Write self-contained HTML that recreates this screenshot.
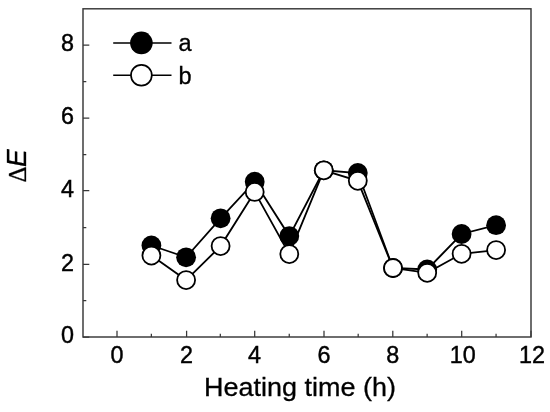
<!DOCTYPE html>
<html><head><meta charset="utf-8"><title>Chart</title>
<style>
html,body{margin:0;padding:0;background:#fff;}
svg{display:block}
text{font-family:"Liberation Sans",Arial,sans-serif;fill:#000}
.t{font-size:24.6px;stroke:#000;stroke-width:0.45px}
.ti{font-size:25.5px;stroke:#000;stroke-width:0.3px}
.lg{font-size:24.8px;stroke:#000;stroke-width:0.35px}
.sym{font-family:"Liberation Sans","DejaVu Sans",sans-serif}
</style></head><body>
<svg width="550" height="412" viewBox="0 0 550 412">
<defs><filter id="soft" x="0" y="0" width="550" height="412" filterUnits="userSpaceOnUse"><feGaussianBlur stdDeviation="0.45"/></filter></defs>
<rect width="550" height="412" fill="#fff"/>
<g filter="url(#soft)">
<rect x="83.0" y="8.8" width="448.0" height="328.2" fill="none" stroke="#383838" stroke-width="1.45"/>
<path d="M117.00 337.0 v-6.3 M186.60 337.0 v-6.3 M254.70 337.0 v-6.3 M324.00 337.0 v-6.3 M392.80 337.0 v-6.3 M461.70 337.0 v-6.3 M531.00 337.0 v-6.3 M151.37 337.0 v-3.3 M220.31 337.0 v-3.3 M289.25 337.0 v-3.3 M358.19 337.0 v-3.3 M427.13 337.0 v-3.3 M496.07 337.0 v-3.3 M83.0 337.00 h6.3 M83.0 264.40 h6.3 M83.0 190.50 h6.3 M83.0 118.00 h6.3 M83.0 45.20 h6.3 M83.0 300.52 h3.3 M83.0 227.57 h3.3 M83.0 154.62 h3.3 M83.0 81.67 h3.3" stroke="#383838" stroke-width="1.25" fill="none"/>
<text transform="translate(116.90,363.4) scale(0.95,1)" text-anchor="middle" class="t">0</text>
<text transform="translate(186.50,363.4) scale(0.95,1)" text-anchor="middle" class="t">2</text>
<text transform="translate(254.60,363.4) scale(0.95,1)" text-anchor="middle" class="t">4</text>
<text transform="translate(323.90,363.4) scale(0.95,1)" text-anchor="middle" class="t">6</text>
<text transform="translate(392.70,363.4) scale(0.95,1)" text-anchor="middle" class="t">8</text>
<text transform="translate(462.70,363.4) scale(0.95,1)" text-anchor="middle" class="t">10</text>
<text transform="translate(532.00,363.4) scale(0.95,1)" text-anchor="middle" class="t">12</text>
<text transform="translate(74,343.20) scale(0.95,1)" text-anchor="end" class="t">0</text>
<text transform="translate(74,270.60) scale(0.95,1)" text-anchor="end" class="t">2</text>
<text transform="translate(74,196.70) scale(0.95,1)" text-anchor="end" class="t">4</text>
<text transform="translate(74,124.20) scale(0.95,1)" text-anchor="end" class="t">6</text>
<text transform="translate(74,51.40) scale(0.95,1)" text-anchor="end" class="t">8</text>
<text transform="translate(300,396) scale(1.058,1)" text-anchor="middle" class="ti">Heating time (h)</text>
<text transform="translate(26,182.6) rotate(-90)" style="font-family:'Liberation Serif',serif;font-size:24.8px;stroke:#000;stroke-width:0.3px">Δ</text>
<text transform="translate(26,167.1) rotate(-90) scale(1,1.07)" style="font-style:italic;font-size:26.5px;stroke:#000;stroke-width:0.3px">E</text>
<polyline points="151.4,245.5 186.1,257.3 220.6,218.3 254.7,181.7 289.3,236.1 323.8,170.3 357.8,173.0 393,268.0 427.2,269.5 461.6,234.0 496.1,225.2" fill="none" stroke="#000" stroke-width="1.8"/>
<circle cx="151.4" cy="245.5" r="9.9" fill="#000"/>
<circle cx="186.1" cy="257.3" r="9.9" fill="#000"/>
<circle cx="220.6" cy="218.3" r="9.9" fill="#000"/>
<circle cx="254.7" cy="181.7" r="9.9" fill="#000"/>
<circle cx="289.3" cy="236.1" r="9.9" fill="#000"/>
<circle cx="323.8" cy="170.3" r="9.9" fill="#000"/>
<circle cx="357.8" cy="173.0" r="9.9" fill="#000"/>
<circle cx="393" cy="268.0" r="9.9" fill="#000"/>
<circle cx="427.2" cy="269.5" r="9.9" fill="#000"/>
<circle cx="461.6" cy="234.0" r="9.9" fill="#000"/>
<circle cx="496.1" cy="225.2" r="9.9" fill="#000"/>
<polyline points="151.4,255.6 186.1,280.1 220.6,246.1 254.7,191.9 289.3,254.1 323.8,170.3 357.8,180.8 393,268.0 427.2,272.8 461.6,253.8 496.1,250.1" fill="none" stroke="#000" stroke-width="1.8"/>
<circle cx="151.4" cy="255.6" r="9.0" fill="#fff" stroke="#000" stroke-width="1.8"/>
<circle cx="186.1" cy="280.1" r="9.0" fill="#fff" stroke="#000" stroke-width="1.8"/>
<circle cx="220.6" cy="246.1" r="9.0" fill="#fff" stroke="#000" stroke-width="1.8"/>
<circle cx="254.7" cy="191.9" r="9.0" fill="#fff" stroke="#000" stroke-width="1.8"/>
<circle cx="289.3" cy="254.1" r="9.0" fill="#fff" stroke="#000" stroke-width="1.8"/>
<circle cx="323.8" cy="170.3" r="9.0" fill="#fff" stroke="#000" stroke-width="1.8"/>
<circle cx="357.8" cy="180.8" r="9.0" fill="#fff" stroke="#000" stroke-width="1.8"/>
<circle cx="393" cy="268.0" r="9.0" fill="#fff" stroke="#000" stroke-width="1.8"/>
<circle cx="427.2" cy="272.8" r="9.0" fill="#fff" stroke="#000" stroke-width="1.8"/>
<circle cx="461.6" cy="253.8" r="9.0" fill="#fff" stroke="#000" stroke-width="1.8"/>
<circle cx="496.1" cy="250.1" r="9.0" fill="#fff" stroke="#000" stroke-width="1.8"/>
<path d="M113.2 42.9 H171.5 M113.2 75.3 H171.5" stroke="#000" stroke-width="1.5"/>
<circle cx="141.4" cy="42.9" r="11.3" fill="#000"/>
<circle cx="141.4" cy="75.3" r="10.4" fill="#fff" stroke="#000" stroke-width="1.7"/>
<text transform="translate(178.6,51.1) scale(0.95,1)" class="lg">a</text>
<text transform="translate(178.6,83.5) scale(0.95,1)" class="lg">b</text>
</g>
</svg>
</body></html>
